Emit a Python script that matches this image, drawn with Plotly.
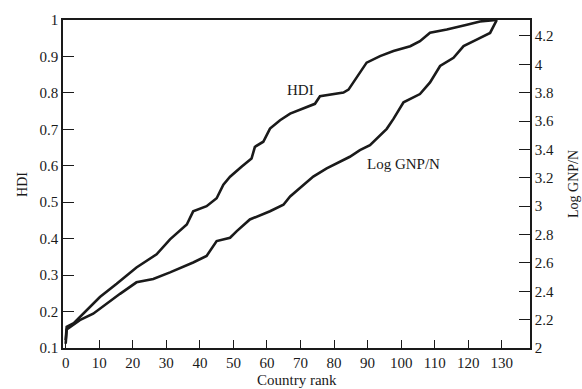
import plotly.graph_objects as go

# Country rank vs HDI (left axis)
hdi_rank = [0, 0.3, 2.4, 5.2, 10.2, 15.2, 21.1, 27.1, 31.1, 36.1, 38.0, 42.0, 45.0, 47.0,
            49.0, 52.5, 55.4, 56.4, 58.9, 60.9, 63.9, 66.9, 70.8, 74.3, 75.8, 82.8, 84.3,
            87.7, 89.7, 93.7, 97.7, 102.7, 105.6, 108.6, 113.6, 119.6, 123.5, 128.3]
hdi_vals = [0.122, 0.158, 0.168, 0.194, 0.240, 0.276, 0.321, 0.357, 0.398, 0.439, 0.475,
            0.489, 0.511, 0.548, 0.570, 0.598, 0.620, 0.652, 0.666, 0.702, 0.725, 0.743,
            0.758, 0.770, 0.791, 0.801, 0.809, 0.856, 0.883, 0.901, 0.915, 0.928, 0.942,
            0.965, 0.974, 0.987, 0.996, 1.0]

# Country rank vs Log GNP/N (right axis)
gnp_rank = [0, 0.3, 4.2, 8.2, 16.2, 21.1, 26.1, 31.1, 38.0, 42.0, 45.0, 49.0, 51.0, 54.9,
            60.9, 64.9, 66.9, 70.0, 73.8, 77.8, 81.8, 84.7, 87.7, 90.7, 95.7, 97.7, 100.7,
            105.6, 108.6, 111.6, 115.6, 118.6, 122.5, 126.5, 128.5]
gnp_vals = [2.03, 2.13, 2.196, 2.242, 2.382, 2.463, 2.487, 2.533, 2.603, 2.649, 2.754,
            2.777, 2.824, 2.906, 2.964, 3.010, 3.068, 3.131, 3.208, 3.266, 3.313, 3.348,
            3.395, 3.429, 3.545, 3.615, 3.732, 3.790, 3.872, 3.988, 4.046, 4.128, 4.174,
            4.221, 4.312]

x_ticks = list(range(0, 131, 10))
left_ticks = [0.1, 0.2, 0.3, 0.4, 0.5, 0.6, 0.7, 0.8, 0.9, 1.0]
left_labels = ["0.1", "0.2", "0.3", "0.4", "0.5", "0.6", "0.7", "0.8", "0.9", "1"]
right_ticks = [2.0, 2.2, 2.4, 2.6, 2.8, 3.0, 3.2, 3.4, 3.6, 3.8, 4.0, 4.2]
right_labels = ["2", "2.2", "2.4", "2.6", "2.8", "3", "3.2", "3.4", "3.6", "3.8", "4", "4.2"]

FONT = "Liberation Serif"
INK = "#1a1a1a"

fig = go.Figure()
fig.add_trace(go.Scatter(x=hdi_rank, y=hdi_vals, mode="lines", name="HDI",
                         line=dict(color=INK, width=2.6), yaxis="y"))
fig.add_trace(go.Scatter(x=gnp_rank, y=gnp_vals, mode="lines", name="Log GNP/N",
                         line=dict(color=INK, width=2.6), yaxis="y2"))

fig.update_layout(
    width=582, height=389,
    margin=dict(l=63, r=52, t=17, b=41),
    paper_bgcolor="white", plot_bgcolor="white",
    showlegend=False,
    font=dict(family=FONT, size=15, color=INK),
    xaxis=dict(range=[-0.8, 138.4], tickmode="array", tickvals=x_ticks,
               ticks="inside", ticklen=8, tickwidth=1.3, tickcolor=INK,
               showline=True, linecolor=INK, linewidth=1.5, mirror=True,
               showgrid=False, zeroline=False),
    yaxis=dict(range=[0.1, 1.0], tickmode="array", tickvals=left_ticks, ticktext=left_labels,
               ticks="inside", ticklen=11, tickwidth=1.3, tickcolor=INK,
               showline=True, linecolor=INK, linewidth=1.5,
               showgrid=False, zeroline=False),
    yaxis2=dict(range=[2.0, 4.312], tickmode="array", tickvals=right_ticks, ticktext=right_labels,
                overlaying="y", side="right",
                ticks="inside", ticklen=11, tickwidth=1.3, tickcolor=INK,
                showline=True, linecolor=INK, linewidth=1.5,
                showgrid=False, zeroline=False),
    annotations=[
        dict(text="HDI", x=70, y=0.807, xref="x", yref="y", showarrow=False,
             xanchor="center", yanchor="middle",
             font=dict(family=FONT, size=15, color=INK)),
        dict(text="Log GNP/N", x=100.7, y=3.30, xref="x", yref="y2", showarrow=False,
             xanchor="center", yanchor="middle",
             font=dict(family=FONT, size=15, color=INK)),
        dict(text="HDI", x=-0.088, y=0.5, xref="paper", yref="paper", showarrow=False,
             xanchor="center", yanchor="middle",
             textangle=-90, font=dict(family=FONT, size=14, color=INK)),
        dict(text="Log GNP/N", x=1.092, y=0.5, xref="paper", yref="paper", showarrow=False,
             xanchor="center", yanchor="middle",
             textangle=-90, font=dict(family=FONT, size=14, color=INK)),
        dict(text="Country rank", x=0.5, y=-0.097, xref="paper", yref="paper", showarrow=False,
             xanchor="center", yanchor="middle",
             font=dict(family=FONT, size=15, color=INK)),
    ],
)

fig.write_html(
    "out.html",
    config={"displayModeBar": False},
    post_script="document.body.style.margin='0';document.body.style.overflow='hidden';",
)
